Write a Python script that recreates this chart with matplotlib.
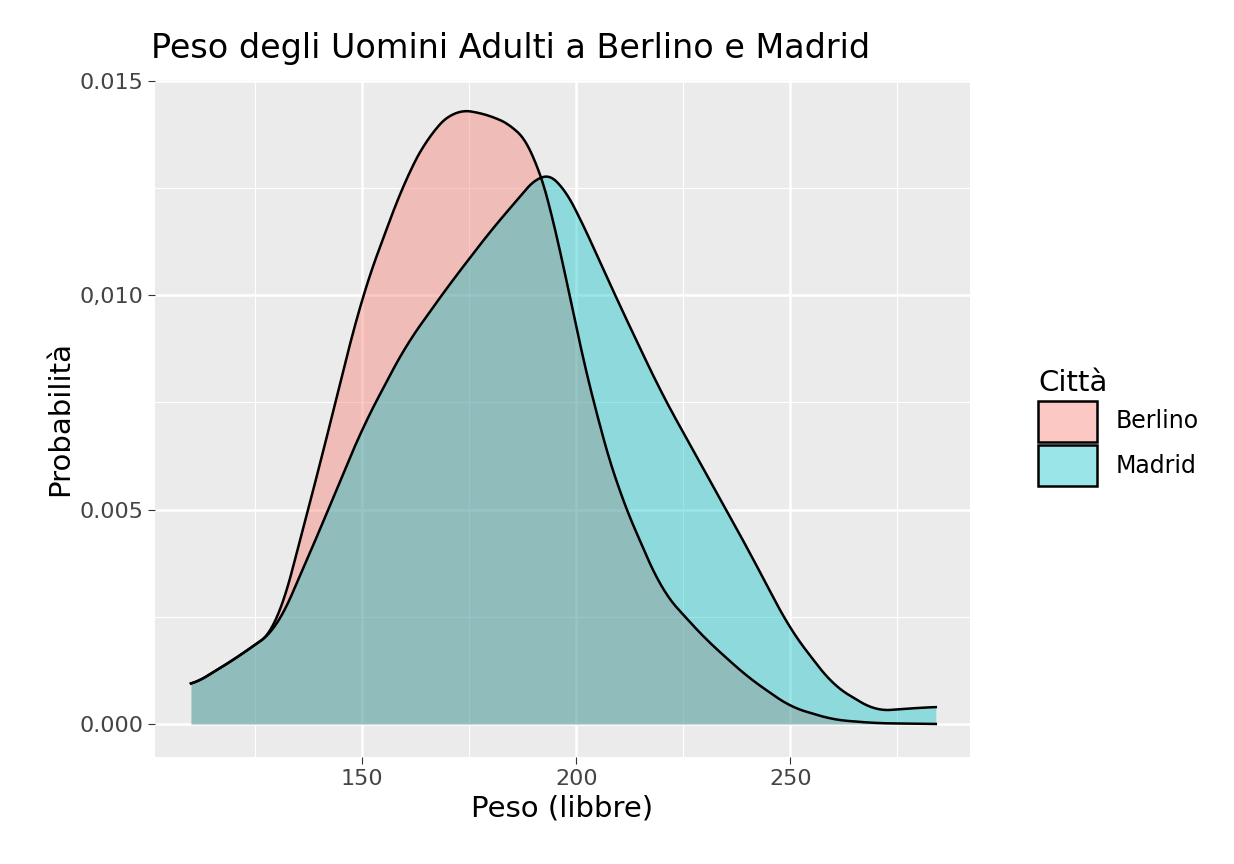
import matplotlib
matplotlib.use("Agg")
import matplotlib.pyplot as plt
import numpy as np
from matplotlib.patches import Patch
from matplotlib.colors import to_rgba

berlino_x = [110,120,130,140,150,160,166,172,180,186,190,195,200,205,210,220,230,240,250,260,270,284]
berlino_y = [0.00089,0.0015,0.0022,0.0060,0.0100,0.0127,0.0138,0.01435,0.0142,0.0139,0.0134,0.0117,0.0092,0.0071,0.0054,0.0031,0.0020,0.0011,0.0004,0.0001,0.00002,0.0]
madrid_x = [110,120,130,140,150,160,170,180,186,192,196,200,210,220,230,240,250,260,270,276,284]
madrid_y = [0.00089,0.0015,0.0022,0.0045,0.0069,0.0088,0.0102,0.0115,0.0122,0.0129,0.0127,0.0120,0.0098,0.0077,0.0059,0.0041,0.0022,0.0009,0.0003,0.00035,0.0004]
labels = ["Berlino","Madrid"]
colors = ["#F8766D","#00BFC4"]
yticks = [0.0,0.005,0.010,0.015]
ytick_labels = ["0.000","0.005","0,010","0.015"]
xticks = [150,200,250]

def smooth(x, y):
    xs = np.linspace(min(x), max(x), 600)
    ys = np.interp(xs, x, y)
    k = np.ones(25)/25
    pad = np.pad(ys, 12, mode="edge")
    return xs, np.convolve(pad, k, mode="valid")

fig = plt.figure(figsize=(12.34,8.64), dpi=100)
ax = fig.add_axes([0.1256,0.1238,0.6605,0.7836])
ax.set_facecolor("#EBEBEB")
for v in [125,175,225,275]:
    ax.axvline(v, color="white", lw=0.8, zorder=0)
for v in [0.0025,0.0075,0.0125]:
    ax.axhline(v, color="white", lw=0.8, zorder=0)
for v in xticks:
    ax.axvline(v, color="white", lw=1.8, zorder=0)
for v in yticks:
    ax.axhline(v, color="white", lw=1.8, zorder=0)
for x, y, c in [(berlino_x,berlino_y,colors[0]),(madrid_x,madrid_y,colors[1])]:
    xs, ys = smooth(x, y)
    ax.fill_between(xs, 0, ys, color=c, alpha=0.4, lw=0, zorder=2)
    ax.plot(xs, ys, color="black", lw=1.8, zorder=3)
ax.set_xlim(101.6, 292)
ax.set_ylim(-0.00077, 0.01502)
ax.set_xticks(xticks)
ax.set_yticks(yticks)
ax.set_yticklabels(ytick_labels)
for s in ax.spines.values():
    s.set_visible(False)
ax.tick_params(colors="#444444", labelsize=16, length=5, color="#333333")
ax.set_xlabel("Peso (libbre)", fontsize=21)
ax.set_ylabel("Probabilità", fontsize=21)
ax.set_title("Peso degli Uomini Adulti a Berlino e Madrid", fontsize=24, loc="left", x=-0.005, pad=16)
handles = [Patch(facecolor=to_rgba(c, 0.4), edgecolor="black", lw=1.8) for c in colors]
leg = fig.legend(handles, labels, title="Città", loc="center left", bbox_to_anchor=(0.824,0.505),
                 frameon=False, fontsize=17, title_fontsize=21, handlelength=2.5, handleheight=2.3,
                 labelspacing=0.15, handletextpad=0.8)
leg._legend_box.align = "left"
fig.savefig("out.png", dpi=100)
